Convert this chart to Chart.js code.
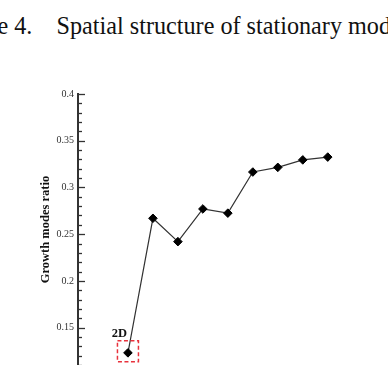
<!DOCTYPE html>
<html>
<head>
<meta charset="utf-8">
<script src="https://cdn.jsdelivr.net/npm/chart.js@4.4.1/dist/chart.umd.min.js"></script>
<style>
  html, body { margin: 0; padding: 0; background: #fff; overflow: hidden; }
  #wrap { position: relative; width: 388px; height: 365px; overflow: hidden; }
  #caption {
    position: absolute; left: -55px; top: 12px; white-space: nowrap;
    font-family: "Liberation Serif", "DejaVu Serif", serif; font-size: 24.2px; color: #111;
  }
  canvas { position: absolute; left: 0; top: 0; }
</style>
</head>
<body>
<div id="wrap">
  <div id="caption">Figure 4.&nbsp;&nbsp;&nbsp;&nbsp;Spatial structure of stationary modes</div>
  <canvas id="chart" width="388" height="375"></canvas>
</div>
<script>
// case index along the (hidden) x axis
const caseIdx = [1, 2, 3, 4, 5, 6, 7, 8, 9];
// growth modes ratio
const ratio = [0.123, 0.267, 0.242, 0.277, 0.2725, 0.3165, 0.3215, 0.3295, 0.3325];
const majorTicks = [0.15, 0.2, 0.25, 0.3, 0.35, 0.4];
const markLabel = "2D";
const yTitle = "Growth modes ratio";

const serif = '"Liberation Serif", "DejaVu Serif", serif';

// inward ticks: long at labelled values, short in between
const inwardTicks = {
  id: 'inwardTicks',
  afterDraw(chart) {
    const y = chart.scales.y;
    const ctx = chart.ctx;
    const x0 = chart.chartArea.left;
    ctx.save();
    ctx.strokeStyle = '#333';
    ctx.lineWidth = 1.3;
    y.ticks.forEach(t => {
      const isMajor = majorTicks.some(m => Math.abs(m - t.value) < 1e-6);
      const py = Math.round(y.getPixelForValue(t.value)) + 0.5;
      ctx.beginPath();
      ctx.moveTo(x0, py);
      ctx.lineTo(x0 + (isMajor ? 7 : 4), py);
      ctx.stroke();
    });
    ctx.restore();
  }
};

// dashed red box and "2D" note on the first point
const markFirst = {
  id: 'markFirst',
  afterDatasetsDraw(chart) {
    const pt = chart.getDatasetMeta(0).data[0];
    const ctx = chart.ctx;
    ctx.save();
    ctx.strokeStyle = '#e8323c';
    ctx.lineWidth = 1.5;
    ctx.setLineDash([4, 2.5]);
    ctx.strokeRect(pt.x - 10.5, pt.y - 12, 21, 21);
    ctx.setLineDash([]);
    ctx.fillStyle = '#111';
    ctx.font = 'bold 12.5px ' + serif;
    ctx.textAlign = 'right';
    ctx.textBaseline = 'alphabetic';
    ctx.fillText(markLabel, pt.x - 1, pt.y - 16);
    ctx.restore();
  }
};

new Chart(document.getElementById('chart'), {
  type: 'line',
  data: {
    datasets: [{
      data: caseIdx.map((x, i) => ({ x: x, y: ratio[i] })),
      borderColor: '#333',
      borderWidth: 1.2,
      pointStyle: 'rectRot',
      pointRadius: 4.3,
      pointBackgroundColor: '#000',
      pointBorderColor: '#000',
      pointBorderWidth: 1,
      tension: 0
    }]
  },
  options: {
    responsive: false,
    animation: false,
    events: [],
    layout: { padding: { left: 38, top: 94, right: 0, bottom: 0 } },
    plugins: { legend: { display: false }, tooltip: { enabled: false } },
    scales: {
      x: {
        type: 'linear', display: false, min: -1, max: 11.2
      },
      y: {
        type: 'linear',
        min: 0.11, max: 0.4,
        afterFit(scale) { scale.width = 40; },
        ticks: {
          stepSize: 0.01,
          autoSkip: false,
          padding: 4,
          color: '#333',
          font: { family: serif, size: 10 },
          callback(v) {
            return majorTicks.some(m => Math.abs(m - v) < 1e-6) ? String(+v.toFixed(2)) : '';
          }
        },
        grid: { display: false, drawTicks: false },
        border: { display: true, color: '#333', width: 2 },
        title: {
          display: true, text: yTitle, color: '#111',
          font: { family: serif, size: 12.5, weight: 'bold' },
          padding: { top: 0, bottom: 0 }
        }
      }
    }
  },
  plugins: [inwardTicks, markFirst]
});
</script>
</body>
</html>
